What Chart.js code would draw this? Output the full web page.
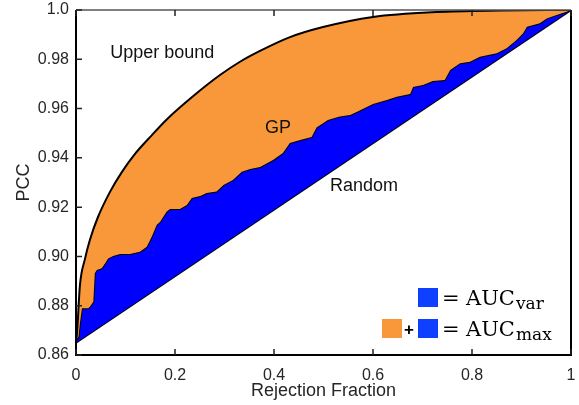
<!DOCTYPE html>
<html><head><meta charset="utf-8">
<script src="https://cdn.jsdelivr.net/npm/chart.js@4"></script>
<style>html,body{margin:0;padding:0;background:#fff}#wrap{width:579px;height:405px}</style>
</head><body><div id="wrap"><canvas id="c" width="579" height="405"></canvas></div>
<script>
// ---- data ----
const upperX = [0, 0.002, 0.008, 0.018, 0.028, 0.0444, 0.0687, 0.0929, 0.1192, 0.1495, 0.1838, 0.2364, 0.2909, 0.3313, 0.3717, 0.4323, 0.499, 0.600, 0.7293, 0.8566, 1.0];
const upperY = [0.8653, 0.8689, 0.8884, 0.8989, 0.9067, 0.916, 0.9262, 0.9343, 0.9416, 0.9484, 0.9557, 0.965, 0.9736, 0.979, 0.9834, 0.989, 0.9931, 0.9972, 0.9992, 0.9998, 1.0];

const gpX = [0, 0.005, 0.008, 0.012, 0.025, 0.028, 0.035, 0.038, 0.042, 0.052, 0.059, 0.065, 0.075, 0.089, 0.109, 0.129, 0.143, 0.153, 0.163, 0.170, 0.183, 0.190, 0.210, 0.224, 0.234, 0.251, 0.264, 0.284, 0.298, 0.317, 0.335, 0.352, 0.372, 0.398, 0.418, 0.432, 0.453, 0.476, 0.486, 0.509, 0.533, 0.554, 0.568, 0.600, 0.628, 0.648, 0.675, 0.681, 0.701, 0.721, 0.745, 0.756, 0.776, 0.796, 0.816, 0.850, 0.870, 0.890, 0.903, 0.911, 0.937, 0.951, 0.971, 0.991, 1.0];
const gpY = [0.866, 0.8674, 0.873, 0.879, 0.879, 0.8796, 0.8816, 0.8932, 0.8945, 0.8952, 0.8972, 0.8992, 0.9002, 0.901, 0.901, 0.9019, 0.9039, 0.908, 0.9128, 0.9141, 0.9181, 0.9192, 0.9192, 0.9209, 0.9237, 0.9245, 0.9257, 0.9263, 0.929, 0.931, 0.9344, 0.9355, 0.9363, 0.9391, 0.942, 0.946, 0.9472, 0.9485, 0.9523, 0.9554, 0.9568, 0.9574, 0.9587, 0.9619, 0.9635, 0.9648, 0.9659, 0.9688, 0.9696, 0.9712, 0.9716, 0.9757, 0.9784, 0.979, 0.981, 0.9824, 0.9845, 0.9878, 0.9905, 0.9932, 0.9946, 0.9966, 0.998, 0.9993, 1.0];

const randomX = [0, 1];
const randomY = [0.865, 1.0];

const xTicks = [0, 0.2, 0.4, 0.6, 0.8, 1];
const xTickLabels = ['0', '0.2', '0.4', '0.6', '0.8', '1'];
const yTicks = [0.86, 0.88, 0.90, 0.92, 0.94, 0.96, 0.98, 1.0];
const yTickLabels = ['0.86', '0.88', '0.90', '0.92', '0.94', '0.96', '0.98', '1.0'];

const seriesNames = ['Upper bound', 'GP', 'Random'];
// ---------------------------------------

const ORANGE = '#F9983A';
const BLUE = '#0000FF';
const LEG_BLUE = '#1040FF';
const SANS = '"Liberation Sans", Arial, Helvetica, sans-serif';
const SERIF = '"DejaVu Serif", "Liberation Serif", serif';

const pts = (xs, ys) => xs.map((x, i) => ({x: x, y: ys[i]}));
const lookup = (ticks, labels) => v => {
  const i = ticks.findIndex(t => Math.abs(t - v) < 1e-9);
  return i >= 0 ? labels[i] : '';
};

const framePlugin = {
  id: 'frame',
  afterDatasetsDraw(chart) {
    const {ctx, chartArea: a, scales} = chart;
    ctx.save();
    ctx.strokeStyle = '#000';
    ctx.lineWidth = 2;
    ctx.beginPath();
    ctx.moveTo(a.left, a.top); ctx.lineTo(a.left, a.bottom); ctx.lineTo(a.right, a.bottom); ctx.lineTo(a.right, a.top);
    ctx.stroke();
    ctx.strokeStyle = '#555';
    ctx.lineWidth = 1.5;
    ctx.beginPath(); ctx.moveTo(a.left, a.top); ctx.lineTo(a.right, a.top); ctx.stroke();
    const tl = 6;
    ctx.lineWidth = 1.5;
    ctx.strokeStyle = '#222';
    ctx.beginPath();
    xTicks.forEach(v => {
      const px = scales.x.getPixelForValue(v);
      ctx.moveTo(px, a.bottom); ctx.lineTo(px, a.bottom - tl);
      ctx.moveTo(px, a.top); ctx.lineTo(px, a.top + tl);
    });
    yTicks.forEach(v => {
      const py = scales.y.getPixelForValue(v);
      ctx.moveTo(a.left, py); ctx.lineTo(a.left + tl, py);
    });
    ctx.stroke();
    ctx.restore();
  }
};

const notePlugin = {
  id: 'notes',
  afterDraw(chart) {
    const {ctx, chartArea: a, scales} = chart;
    const X = v => scales.x.getPixelForValue(v);
    const Y = v => scales.y.getPixelForValue(v);
    ctx.save();
    ctx.fillStyle = '#111';
    ctx.font = '18px ' + SANS;
    ctx.textBaseline = 'middle';
    ctx.textAlign = 'left';
    ctx.fillText(seriesNames[0], X(0.069), Y(0.9825));
    ctx.fillText(seriesNames[1], X(0.382), Y(0.9521));
    ctx.fillText(seriesNames[2], X(0.513), Y(0.9286));

    // legend (lower right)
    const r = a.right, b = a.bottom;
    const rows = [b - 50, b - 19];
    const subs = ['var', 'max'];
    rows.forEach((base, i) => {
      ctx.fillStyle = LEG_BLUE;
      ctx.fillRect(r - 153, base - 17, 20, 19);
      ctx.fillStyle = '#000';
      ctx.textBaseline = 'alphabetic';
      ctx.font = '21px ' + SERIF;
      ctx.fillText('=', r - 129, base);
      ctx.fillText('AUC', r - 105, base);
      const w = ctx.measureText('AUC').width;
      ctx.font = '17px ' + SERIF;
      ctx.fillText(subs[i], r - 105 + w + 1, base + 4);
    });
    ctx.fillStyle = ORANGE;
    ctx.fillRect(r - 189, rows[1] - 17, 20, 19);
    ctx.fillStyle = '#000';
    ctx.font = 'bold 17px ' + SANS;
    ctx.textAlign = 'center';
    ctx.fillText('+', r - 162, rows[1] - 1);
    ctx.restore();
  }
};

new Chart(document.getElementById('c'), {
  type: 'line',
  data: {
    datasets: [
      {label: seriesNames[0], data: pts(upperX, upperY), borderColor: '#000', borderWidth: 2,
       backgroundColor: ORANGE, fill: {target: 1}, pointRadius: 0, cubicInterpolationMode: 'monotone'},
      {label: seriesNames[1], data: pts(gpX, gpY), borderColor: '#000', borderWidth: 2,
       backgroundColor: BLUE, fill: {target: 2}, pointRadius: 0, tension: 0},
      {label: seriesNames[2], data: pts(randomX, randomY), borderColor: '#000', borderWidth: 2,
       fill: false, pointRadius: 0, tension: 0}
    ]
  },
  options: {
    responsive: false,
    devicePixelRatio: 1,
    animation: false,
    layout: {padding: {left: 0, right: 8, top: 10, bottom: 0}},
    plugins: {legend: {display: false}, tooltip: {enabled: false}},
    scales: {
      x: {
        type: 'linear', min: 0, max: 1,
        afterBuildTicks: s => { s.ticks = xTicks.map(v => ({value: v})); },
        afterFit: s => { s.height = 50; },
        grid: {display: false, drawTicks: true, tickLength: 11},
        border: {display: false},
        ticks: {callback: lookup(xTicks, xTickLabels), color: '#262626', font: {family: SANS, size: 16}, padding: 0, maxRotation: 0, autoSkip: false},
        title: {display: true, text: 'Rejection Fraction', color: '#262626', font: {family: SANS, size: 18}, padding: {top: 0, bottom: 3}}
      },
      y: {
        type: 'linear', min: 0.86, max: 1.0,
        afterBuildTicks: s => { s.ticks = yTicks.map(v => ({value: v})); },
        afterFit: s => { s.width = 76; },
        grid: {display: false, drawTicks: true, tickLength: 7},
        border: {display: false},
        ticks: {callback: lookup(yTicks, yTickLabels), color: '#262626', font: {family: SANS, size: 16}, padding: 0, autoSkip: false},
        title: {display: true, text: 'PCC', color: '#262626', font: {family: SANS, size: 18}, padding: {top: 13, bottom: 0}}
      }
    }
  },
  plugins: [framePlugin, notePlugin]
});
</script></body></html>
